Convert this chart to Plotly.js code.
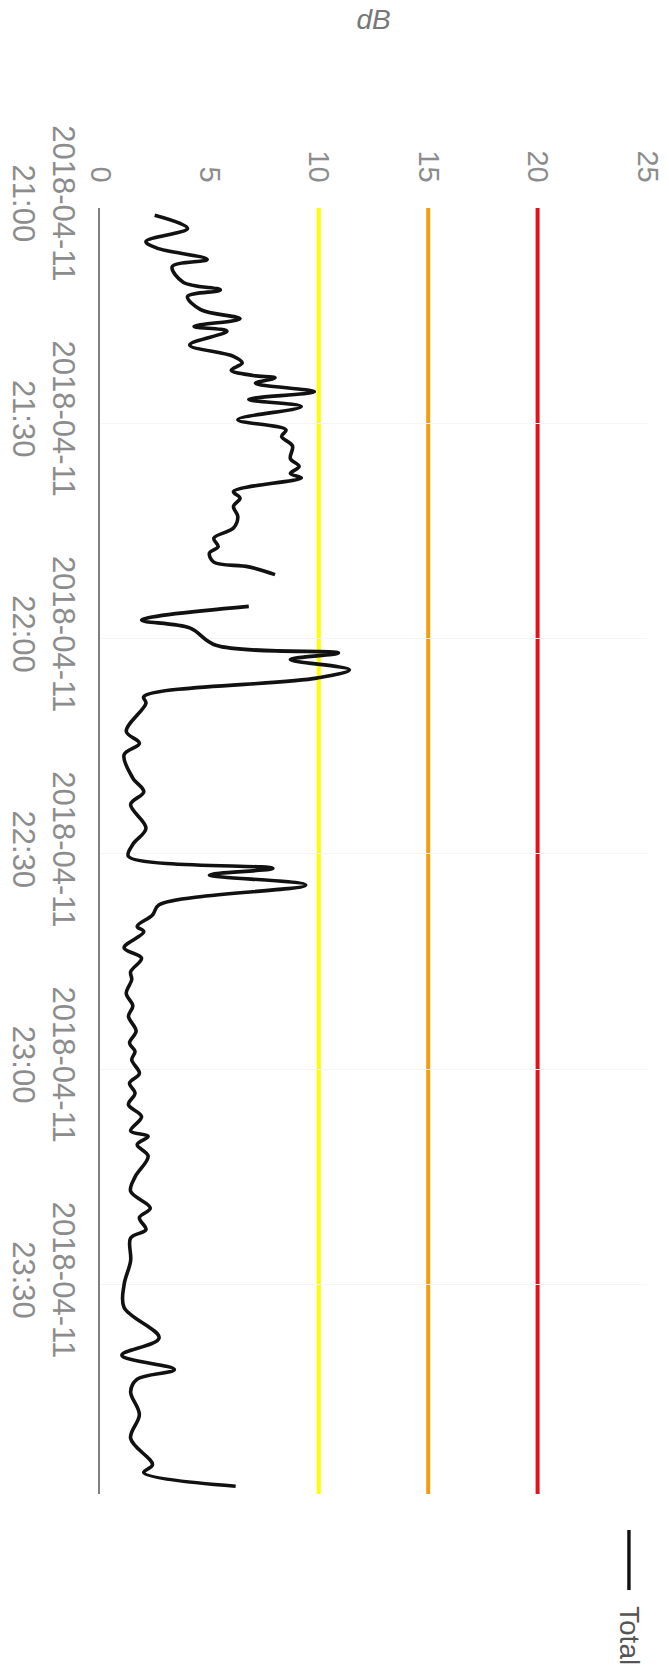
<!DOCTYPE html>
<html>
<head>
<meta charset="utf-8">
<script src="https://cdn.plot.ly/plotly-3.0.1.min.js"></script>
<style>
  html, body { margin: 0; padding: 0; background: #ffffff; }
  #chart { width: 669px; height: 1678px; }
</style>
</head>
<body>
<div id="chart"></div>
<script>
// ---- data ----
const times = [
  '2018-04-11 21:01:00','2018-04-11 21:02:50','2018-04-11 21:04:40','2018-04-11 21:05:35',
  '2018-04-11 21:07:10','2018-04-11 21:08:10','2018-04-11 21:10:20','2018-04-11 21:11:25',
  '2018-04-11 21:12:20','2018-04-11 21:14:10','2018-04-11 21:15:25','2018-04-11 21:16:30',
  '2018-04-11 21:17:10','2018-04-11 21:19:05','2018-04-11 21:20:40','2018-04-11 21:21:35',
  '2018-04-11 21:22:35','2018-04-11 21:23:20','2018-04-11 21:23:40','2018-04-11 21:24:25',
  '2018-04-11 21:25:35','2018-04-11 21:26:40','2018-04-11 21:27:40','2018-04-11 21:29:30',
  '2018-04-11 21:30:55','2018-04-11 21:31:50','2018-04-11 21:33:10','2018-04-11 21:34:55',
  '2018-04-11 21:36:00','2018-04-11 21:37:00','2018-04-11 21:37:35','2018-04-11 21:39:30',
  '2018-04-11 21:40:25','2018-04-11 21:41:35','2018-04-11 21:43:00','2018-04-11 21:44:35',
  '2018-04-11 21:46:00','2018-04-11 21:47:10','2018-04-11 21:48:05','2018-04-11 21:49:20',
  '2018-04-11 21:50:00','2018-04-11 21:51:05','2018-04-11 21:53:00',
  '2018-04-11 21:55:30','2018-04-11 21:57:25','2018-04-11 21:58:30','2018-04-11 22:00:55',
  '2018-04-11 22:02:00','2018-04-11 22:02:55','2018-04-11 22:04:20','2018-04-11 22:05:30',
  '2018-04-11 22:08:05','2018-04-11 22:09:00','2018-04-11 22:12:55','2018-04-11 22:14:35',
  '2018-04-11 22:16:10','2018-04-11 22:19:25','2018-04-11 22:21:20','2018-04-11 22:23:05',
  '2018-04-11 22:26:25','2018-04-11 22:28:40','2018-04-11 22:30:20','2018-04-11 22:32:00',
  '2018-04-11 22:32:55','2018-04-11 22:34:20','2018-04-11 22:37:05','2018-04-11 22:38:30',
  '2018-04-11 22:40:05','2018-04-11 22:40:50','2018-04-11 22:43:05','2018-04-11 22:44:30',
  '2018-04-11 22:46:25','2018-04-11 22:47:30','2018-04-11 22:49:25','2018-04-11 22:51:10',
  '2018-04-11 22:52:35','2018-04-11 22:54:40','2018-04-11 22:56:20','2018-04-11 22:57:30',
  '2018-04-11 22:58:40','2018-04-11 23:00:35','2018-04-11 23:01:55','2018-04-11 23:03:20',
  '2018-04-11 23:04:55','2018-04-11 23:06:35','2018-04-11 23:08:35','2018-04-11 23:09:20',
  '2018-04-11 23:10:30','2018-04-11 23:12:05','2018-04-11 23:15:00','2018-04-11 23:17:00',
  '2018-04-11 23:19:20','2018-04-11 23:20:40','2018-04-11 23:22:20','2018-04-11 23:23:30',
  '2018-04-11 23:26:40','2018-04-11 23:30:00','2018-04-11 23:33:10','2018-04-11 23:37:25',
  '2018-04-11 23:39:50','2018-04-11 23:41:50','2018-04-11 23:43:10','2018-04-11 23:44:55',
  '2018-04-11 23:48:05','2018-04-11 23:51:25','2018-04-11 23:55:05','2018-04-11 23:56:10',
  '2018-04-11 23:58:05'
];
const totalDb = [
  2.5, 4.0, 2.1, 2.6,
  4.9, 3.3, 3.8, 5.5,
  4.0, 4.6, 6.4, 4.3,
  5.8, 4.1, 6.1, 6.5,
  6.0, 7.0, 8.0, 7.1,
  9.8, 6.8, 9.2, 6.3,
  8.5, 8.3, 8.8, 8.7,
  9.1, 8.7, 9.2, 6.1,
  6.4, 6.1, 6.3, 6.1,
  5.2, 5.4, 5.0, 5.2,
  6.8, 8.0, null,
  6.8, 1.9, 4.1, 5.3,
  10.9, 8.7, 11.4, 9.9,
  2.0, 2.1, 1.2, 1.8,
  1.1, 1.5, 2.0, 1.4,
  2.1, 1.5, 1.3, 7.9,
  5.0, 9.4, 2.7, 2.4,
  1.7, 2.0, 1.1, 1.9,
  1.4, 1.45, 1.2, 1.5,
  1.3, 1.65, 1.35, 1.6,
  1.45, 1.8, 1.35, 1.6,
  1.3, 1.9, 1.4, 2.2,
  1.7, 2.2, 1.6, 1.4,
  2.3, 1.8, 2.1, 1.4,
  1.4, 1.1, 1.1, 2.7,
  1.0, 3.4, 1.7, 1.4,
  1.8, 1.4, 2.4, 2.0,
  6.2
];
const dbTicks = [0, 5, 10, 15, 20, 25];
const timeTicks = ['2018-04-11 21:00','2018-04-11 21:30','2018-04-11 22:00','2018-04-11 22:30','2018-04-11 23:00','2018-04-11 23:30'];
const timeTickText = ['2018-04-11<br>21:00','2018-04-11<br>21:30','2018-04-11<br>22:00','2018-04-11<br>22:30','2018-04-11<br>23:00','2018-04-11<br>23:30'];
const thresholds = [10, 15, 20];
const thresholdColors = ['#ffff00', '#f59d0e', '#e3121b'];
const seriesName = 'Total';

// ---- chart ----
const FONT = 'Liberation Sans, Arial, sans-serif';

const traces = [{
  type: 'scatter',
  mode: 'lines',
  name: seriesName,
  x: totalDb,
  y: times,
  connectgaps: false,
  line: { color: '#111111', width: 3.6, shape: 'spline', smoothing: 1 },
  showlegend: false,
  hoverinfo: 'x+y'
}];

const shapes = thresholds.map((v, i) => ({
  type: 'line', xref: 'x', yref: 'paper',
  x0: v, x1: v, y0: 0, y1: 1,
  line: { color: thresholdColors[i], width: 4 },
  layer: 'between'
}));
// legend sample line (rotated legend)
shapes.push({
  type: 'line', xref: 'paper', yref: 'paper',
  x0: 0.967, x1: 0.967, y0: -0.028, y1: -0.0747,
  line: { color: '#111111', width: 3.4 }
});

const layout = {
  width: 669,
  height: 1678,
  margin: { l: 100, r: 22, t: 208, b: 184 },
  paper_bgcolor: '#ffffff',
  plot_bgcolor: '#ffffff',
  showlegend: false,
  font: { family: FONT, color: '#888888' },
  xaxis: {
    side: 'top',
    range: [0, 25],
    tickvals: dbTicks,
    ticktext: dbTicks.map(String),
    tickangle: 90,
    ticks: '',
    ticklabelstandoff: 20,
    showline: false,
    zeroline: false,
    showgrid: false,
    tickfont: { family: FONT, size: 29, color: '#8c8c8c' },
    title: { text: '<i>dB</i>', font: { family: FONT, size: 28, color: '#777777' }, standoff: 112 },
    automargin: false,
    fixedrange: true
  },
  yaxis: {
    type: 'date',
    range: ['2018-04-11 23:59:10', '2018-04-11 21:00'],
    tickvals: timeTicks,
    ticktext: timeTickText,
    tickangle: 90,
    ticks: '',
    ticklabelstandoff: 8,
    showline: true,
    linecolor: '#808080',
    linewidth: 2,
    zeroline: false,
    showgrid: true,
    gridcolor: '#f5f5f5',
    tickfont: { family: FONT, size: 31, color: '#8c8c8c' },
    automargin: false,
    fixedrange: true
  },
  shapes: shapes,
  annotations: [{
    xref: 'paper', yref: 'paper',
    x: 0.967, y: -0.1104,
    xanchor: 'center', yanchor: 'middle',
    text: seriesName,
    textangle: 90,
    showarrow: false,
    font: { family: FONT, size: 28, color: '#555555' }
  }]
};

Plotly.newPlot('chart', traces, layout, { displayModeBar: false, staticPlot: true });
</script>
</body>
</html>
